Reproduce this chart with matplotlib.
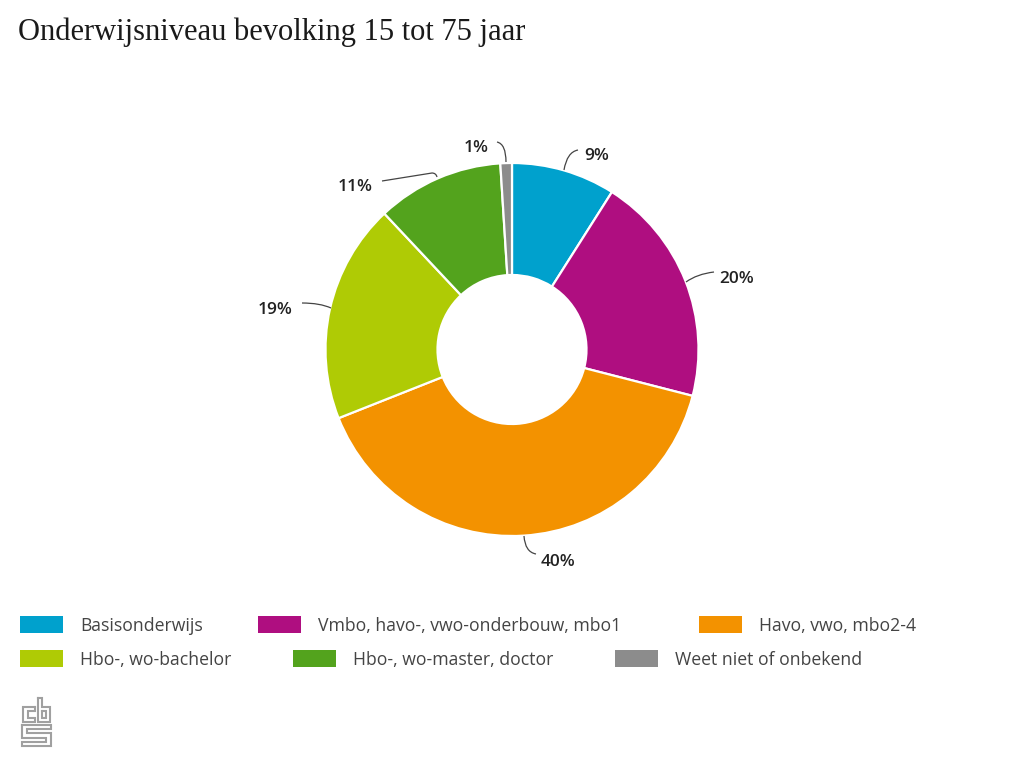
import matplotlib
matplotlib.use("Agg")
import matplotlib.pyplot as plt
from matplotlib.patches import Rectangle, PathPatch
from matplotlib.path import Path

categories = ["Basisonderwijs", "Vmbo, havo-, vwo-onderbouw, mbo1", "Havo, vwo, mbo2-4",
              "Hbo-, wo-bachelor", "Hbo-, wo-master, doctor", "Weet niet of onbekend"]
values = [9, 20, 40, 19, 11, 1]
colors = ["#00A1CD", "#AF0E80", "#F39200", "#AFCB05", "#53A31D", "#8C8C8C"]
value_labels = ["9%", "20%", "40%", "19%", "11%", "1%"]
title = "Onderwijsniveau bevolking 15 tot 75 jaar"

H = 768


def y(py):
    return H - py


# layout, in pixels from the top left of the picture
label_pos = [(597, 156), (737, 279), (558, 562), (275, 310), (355, 187), (476, 148)]
# each leader is start, then (control, end) pairs of quadratic curves
leaders = [
    [(564, 170), (567, 152), (578, 150)],
    [(686, 282), (697, 274), (714, 272)],
    [(524, 536), (525, 552), (536, 554)],
    [(331, 308), (320, 303), (302, 303)],
    [(382, 181), (407, 177), (432, 173), (436, 173), (437, 177)],
    [(506, 162), (506, 144), (497, 142)],
]
swatch_pos = [(20, 616), (258, 616), (699, 616), (20, 650), (293, 650), (615, 650)]
legend_text_x = [80, 318, 759, 80, 353, 675]

logo_paths = [
    [(35, 707), (23, 707), (23, 722), (35, 722), (35, 718), (28, 718), (28, 711), (35, 711), (35, 707)],
    [(38, 698), (42, 698), (42, 707), (50, 707), (50, 722), (38, 722), (38, 698)],
    [(42, 711), (46, 711), (46, 718), (42, 718), (42, 711)],
    [(22, 725), (51, 725), (51, 729), (27, 729), (27, 733), (51, 733), (51, 746),
     (22, 746), (22, 742), (46, 742), (46, 738), (22, 738), (22, 725)],
]

fig = plt.figure(figsize=(10.24, 7.68), dpi=100)
ax = fig.add_axes([0, 0, 1, 1])

ax.pie(values, colors=colors, center=(512, y(349.5)), radius=186.5, startangle=90, counterclock=False,
       wedgeprops={"width": 112, "edgecolor": "white", "linewidth": 1.6}, frame=True)
ax.set_xlim(0, 1024)
ax.set_ylim(0, H)
ax.set_aspect("equal")
ax.axis("off")

ax.text(18, y(32), title, family="Liberation Serif", fontsize=22.0, color="#1a1a1a", va="center", ha="left")

for lab, pos in zip(value_labels, label_pos):
    ax.text(pos[0], y(pos[1]), lab, family="Open Sans", fontweight="semibold", fontsize=12.4,
            color="#222222", ha="center", va="center")

for pts in leaders:
    codes = [Path.MOVETO] + [Path.CURVE3] * (len(pts) - 1)
    verts = [(p[0], y(p[1])) for p in pts]
    ax.add_patch(PathPatch(Path(verts, codes), facecolor="none", edgecolor="#444444", linewidth=0.9))

for cat, col, pos, tx in zip(categories, colors, swatch_pos, legend_text_x):
    ax.add_patch(Rectangle((pos[0], y(pos[1] + 17)), 43, 17, facecolor=col, edgecolor="none"))
    ax.text(tx, y(pos[1] + 10), cat, family="Open Sans", fontsize=12.7, color="#444444", va="center", ha="left")

for path in logo_paths:
    ax.plot([p[0] for p in path], [y(p[1]) for p in path], color="#a0a0a0", linewidth=1.5,
            solid_joinstyle="miter")

fig.savefig("out.png", dpi=100, facecolor="white")
